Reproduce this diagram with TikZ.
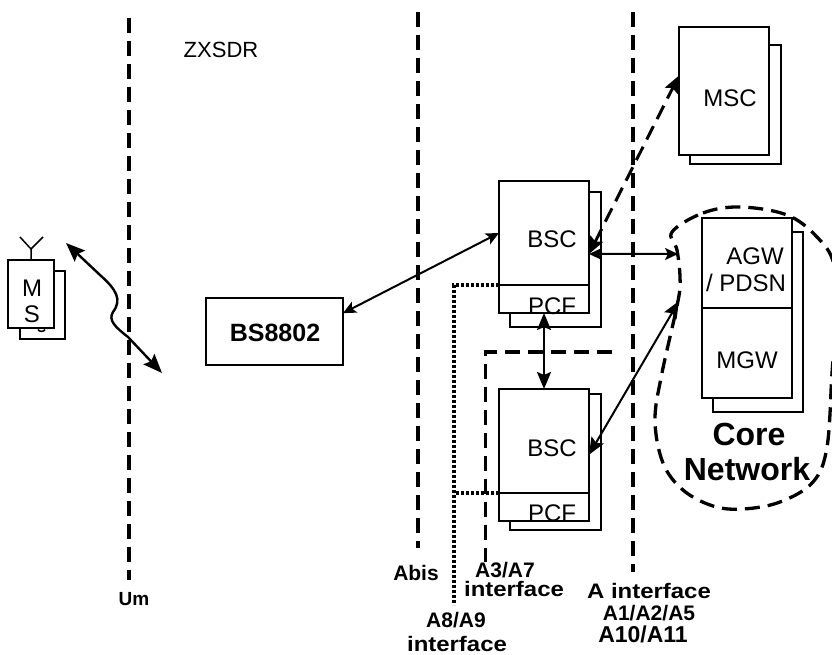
\documentclass[tikz,border=0pt]{standalone}
\usepackage{fontspec}
\setmainfont{Liberation Sans}
\newfontfamily\widefont[FakeStretch=1.14]{Liberation Sans}
\usetikzlibrary{arrows.meta}
\tikzset{
  unit/.style={draw, fill=white, line width=1.8pt, inner sep=0pt, outer sep=0pt},
  thintext/.style={anchor=base, inner sep=0pt, font=\fontsize{24}{24}\selectfont},
  boldtext/.style={anchor=base, inner sep=0pt, font=\bfseries\fontsize{21}{21}\selectfont},
  widetext/.style={anchor=base, inner sep=0pt, font=\widefont\bfseries\fontsize{21}{21}\selectfont},
  bigtext/.style={anchor=base, inner sep=0pt, font=\bfseries\fontsize{32}{32}\selectfont},
  iface/.style={line width=3.3pt, dash pattern=on 15pt off 8pt},
  dotline/.style={line width=3.2pt, dash pattern=on 2.8pt off 2.2pt},
  link/.style={line width=2pt, {Stealth[length=13pt,width=12pt,inset=3pt]}-{Stealth[length=13pt,width=12pt,inset=3pt]}},
  midlink/.style={line width=2.4pt, {Stealth[length=17pt,width=14pt,inset=3pt]}-{Stealth[length=17pt,width=14pt,inset=3pt]}},
  biglink/.style={line width=2.4pt, {Stealth[length=19pt,width=15pt,inset=3pt]}-{Stealth[length=19pt,width=15pt,inset=3pt]}}
}
\begin{document}
\begin{tikzpicture}[x=1pt, y=-1pt]
\useasboundingbox (0, 0) rectangle (832, 655);
\clip (0, 0) rectangle (832, 655);
\fill[white] (0, 0) rectangle (832, 655);
\coordinate (umtop) at (129, 18);
\coordinate (umend) at (129, 580);
\coordinate (abistop) at (418, 12);
\coordinate (abisend) at (418, 548);
\coordinate (atop) at (633, 12);
\coordinate (aend) at (633, 572);
\coordinate (a3right) at (612, 352);
\coordinate (a3corner) at (485.5, 352);
\coordinate (a3end) at (485.5, 562);
\coordinate (a8corner) at (454, 285);
\coordinate (a8end) at (454, 605);
\coordinate (msup) at (66, 243);
\coordinate (msdown) at (162, 373);
\coordinate (corein) at (678, 254);
\coordinate (corelow) at (679, 301);
% interface lines
\draw[iface] (umtop) -- (umend);
\draw[iface] (abistop) -- (abisend);
\draw[iface] (atop) -- (aend);
\draw[iface] (a3right) -- (a3corner) -- (a3end);
% core network
\draw[iface] plot[smooth cycle, tension=0.6] coordinates {(672, 232) (703, 213) (740, 207) (787, 215) (817, 237) (834, 265) (836, 320) (832, 373) (827, 447) (813, 482) (780, 502) (743, 509) (713, 506) (683, 490) (663, 463) (655, 420) (662, 373) (678, 301) (680, 277) (677, 250)};
% MS
\node[unit, minimum width=45pt, minimum height=68pt] (msback) at (42.5, 305) {};
\draw[line width=1.5pt] (38, 329.5) .. controls (39, 332) and (44, 332) .. (45, 329.5);
\node[unit, minimum width=46pt, minimum height=68pt] (ms) at (31, 294) {};
\node[thintext] (mstext) at (32, 296) {M};
\node[thintext] (mstexttwo) at (32, 322) {S};
\coordinate (antenna) at (31, 249);
\draw[line width=1.5pt] (ms.north) -- (antenna) -- (20, 237);
\draw[line width=1.5pt] (antenna) -- (43, 237);
% BS
\node[unit, minimum width=137pt, minimum height=67pt] (bs) at (274.5, 331.5) {};
\node[thintext, font=\bfseries\fontsize{25}{25}\selectfont] (bstext) at (275, 341) {BS8802};
% upper BSC
\node[unit, minimum width=91pt, minimum height=135pt] (bscback) at (555.5, 259.5) {};
\node[unit, minimum width=90pt, minimum height=104pt] (bsc) at (544, 233) {};
\node[unit, minimum width=90pt, minimum height=28pt] (pcf) at (544, 299) {};
\node[thintext] (bsctext) at (552, 247) {BSC};
\node[thintext] (pcftext) at (552, 314) {PCF};
% lower BSC
\node[unit, minimum width=91pt, minimum height=136pt] (bsclowback) at (555.5, 462) {};
\node[unit, minimum width=90pt, minimum height=104pt] (bsclow) at (544, 441) {};
\node[unit, minimum width=90pt, minimum height=28pt] (pcflow) at (544, 507) {};
\node[thintext] (bsclowtext) at (552, 456) {BSC};
\node[thintext] (pcflowtext) at (552, 521) {PCF};
% MSC
\node[unit, minimum width=91pt, minimum height=119pt] (mscback) at (735.5, 104.5) {};
\node[unit, minimum width=90pt, minimum height=128pt] (msc) at (724, 91) {};
\node[thintext] (msctext) at (730, 107) {MSC};
% AGW and MGW
\node[unit, minimum width=90pt, minimum height=180pt] (gwback) at (758, 322) {};
\node[unit, minimum width=90pt, minimum height=90pt] (agw) at (747, 263) {};
\node[unit, minimum width=90pt, minimum height=90pt] (mgw) at (747, 353) {};
\node[thintext] (agwtext) at (755, 264) {AGW};
\node[thintext] (pdsntext) at (746, 291) {/ PDSN};
\node[thintext] (mgwtext) at (747, 368) {MGW};
\node[bigtext] (coretext) at (749, 445) {Core};
\node[bigtext] (networktext) at (747, 480) {Network};
% links
\draw[biglink] (msup) -- (100, 275) .. controls (117, 290) and (122, 300) .. (113, 312) .. controls (108, 320) and (115, 327) .. (128, 337) -- (msdown);
\draw[link] (bs.15) -- (bsc.180);
\draw[link] (bsc.-25) -- (corein);
\draw[midlink] (pcf.south) -- (bsclow.north);
\draw[midlink, line width=2pt] (bsclow.-17) -- (corelow);
\draw[midlink, line width=3pt, dash pattern=on 15pt off 8pt] (bsc.-25) -- (msc.161.6);
\draw[dotline] (bsc.south west) -- (a8corner) -- (a8end);
\draw[dotline] (bsclow.south west) -- (a8end |- bsclow.south west);
% labels
\node[thintext, font=\fontsize{22}{22}\selectfont] (zxsdr) at (221, 58) {ZXSDR};
\node[boldtext, font=\bfseries\fontsize{19}{19}\selectfont] (um) at (134, 605) {Um};
\node[boldtext] (abis) at (416, 580) {Abis};
\node[boldtext] (athree) at (505, 577) {A3/A7};
\node[widetext] (athreeif) at (514, 596) {interface};
\node[boldtext] (aeight) at (456, 627) {A8/A9};
\node[widetext] (aeightif) at (457, 651) {interface};
\node[widetext] (aif) at (649, 598) {A interface};
\node[boldtext] (aone) at (649, 620) {A1/A2/A5};
\node[boldtext, font=\bfseries\fontsize{23}{23}\selectfont] (aten) at (643, 642) {A10/A11};
\end{tikzpicture}
\end{document}
